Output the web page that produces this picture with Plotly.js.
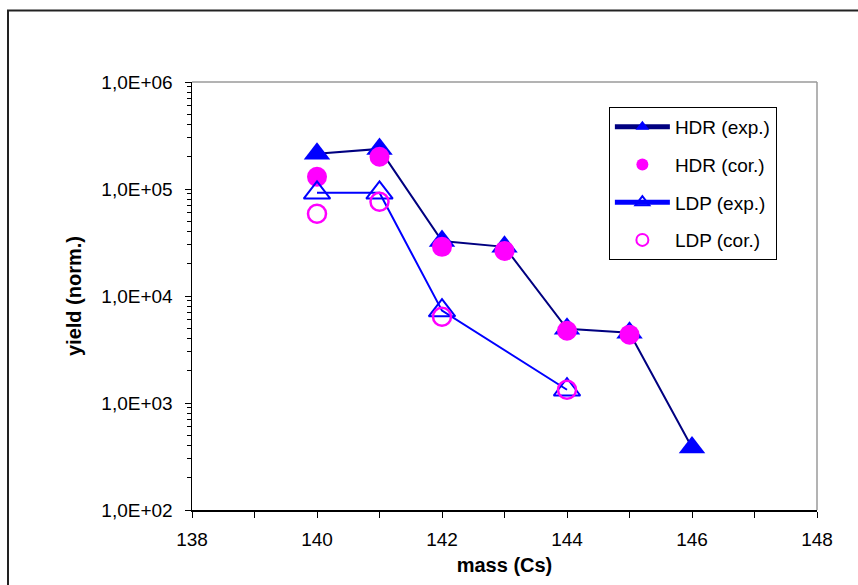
<!DOCTYPE html>
<html>
<head>
<meta charset="utf-8">
<script src="https://cdn.plot.ly/plotly-3.0.1.min.js"></script>
<style>
  html, body { margin: 0; padding: 0; background: #ffffff; }
  #chart { width: 858px; height: 585px; }
</style>
</head>
<body>
<div id="chart"></div>
<script>
// Data
const hdrExpMass = [140, 141, 142, 143, 144, 145, 146];
const hdrExpYield = [213000, 237000, 32700, 28800, 4930, 4530, 383];

const hdrCorMass = [140, 141, 142, 143, 144, 145];
const hdrCorYield = [130000, 200000, 28800, 26400, 4730, 4350];

const ldpExpMass = [140, 141, 142, 144];
const ldpExpYield = [92000, 92000, 7300, 1330];

const ldpCorMass = [140, 141, 142, 144];
const ldpCorYield = [58600, 76000, 6400, 1330];

const yTickVals = [1e2, 1e3, 1e4, 1e5, 1e6];
const yTickText = ["1,0E+02", "1,0E+03", "1,0E+04", "1,0E+05", "1,0E+06"];
const xTickVals = [138, 140, 142, 144, 146, 148];

const FONT = "Liberation Sans, Arial, sans-serif";

const traces = [
  {
    name: "HDR (exp.)", x: hdrExpMass, y: hdrExpYield, type: "scatter", mode: "lines+markers",
    legendgroup: "g1",
    line: { color: "#000080", width: 2 },
    marker: { symbol: "triangle-up", size: 23, color: "#0000FF", line: { width: 0 } }
  },
  {
    name: "HDR (cor.)", x: hdrCorMass, y: hdrCorYield, type: "scatter", mode: "markers",
    legendgroup: "g2",
    marker: { symbol: "circle", size: 20, color: "#FF00FF", line: { width: 0 } }
  },
  {
    name: "LDP (exp.)", x: ldpExpMass, y: ldpExpYield, type: "scatter", mode: "lines+markers",
    legendgroup: "g3",
    line: { color: "#0000FF", width: 2 },
    marker: { symbol: "triangle-up-open", size: 23, color: "#0000FF", line: { width: 2, color: "#0000FF" } }
  },
  {
    name: "LDP (cor.)", x: ldpCorMass, y: ldpCorYield, type: "scatter", mode: "markers",
    legendgroup: "g4",
    marker: { symbol: "circle-open", size: 18, color: "#FF00FF", line: { width: 2.5, color: "#FF00FF" } }
  }
];

const layout = {
  width: 858, height: 585,
  margin: { l: 192, r: 41, t: 82, b: 74.5 },
  paper_bgcolor: "#ffffff",
  plot_bgcolor: "#ffffff",
  font: { family: FONT, color: "#000000", size: 19 },
  showlegend: true,
  legend: {
    x: 0.667, y: 0.9417, xanchor: "left", yanchor: "top",
    bgcolor: "#ffffff", bordercolor: "#000000", borderwidth: 1,
    font: { family: FONT, size: 19, color: "#000000" },
    traceorder: "grouped", tracegroupgap: 10,
    itemsizing: "constant", itemwidth: 55
  },
  xaxis: {
    range: [138, 148],
    tickmode: "array", tickvals: xTickVals,
    ticks: "outside", ticklen: 6, tickcolor: "#000000", tickwidth: 1,
    minor: { dtick: 1, ticks: "outside", ticklen: 6, tickcolor: "#000000", showgrid: false },
    showline: true, linecolor: "#000000", linewidth: 1.5,
    showgrid: false, zeroline: false,
    tickfont: { family: FONT, size: 19, color: "#000000" },
    ticklabelstandoff: 6,
    title: { text: "mass (Cs)", font: { family: FONT, size: 20, weight: "bold", color: "#000000" }, standoff: 8 }
  },
  yaxis: {
    type: "log", range: [2, 6],
    tickmode: "array", tickvals: yTickVals, ticktext: yTickText,
    ticks: "outside", ticklen: 6, tickcolor: "#000000", tickwidth: 1,
    minor: { dtick: "D1", ticks: "outside", ticklen: 4, tickcolor: "#000000", showgrid: false },
    showline: true, linecolor: "#000000", linewidth: 1.5,
    showgrid: false, zeroline: false,
    tickfont: { family: FONT, size: 19, color: "#000000" },
    ticklabelstandoff: 8,
    title: { text: "yield (norm.)", font: { family: FONT, size: 20, weight: "bold", color: "#000000" }, standoff: 14 }
  },
  shapes: [
    // outer chart frame (extends past the image on right and bottom)
    { type: "rect", xref: "paper", yref: "paper", x0: -0.2944, x1: 1.2, y0: -0.5, y1: 1.1669,
      line: { color: "#222222", width: 2 }, fillcolor: "rgba(0,0,0,0)", layer: "below" },
    // plot area border (top and right, gray)
    { type: "line", xref: "paper", yref: "paper", x0: 0, x1: 1, y0: 1, y1: 1,
      line: { color: "#9a9a9a", width: 1.5 } },
    { type: "line", xref: "paper", yref: "paper", x0: 1, x1: 1, y0: 0, y1: 1,
      line: { color: "#9a9a9a", width: 1.5 } }
  ]
};

Plotly.newPlot("chart", traces, layout, { displayModeBar: false, staticPlot: true });
</script>
</body>
</html>
